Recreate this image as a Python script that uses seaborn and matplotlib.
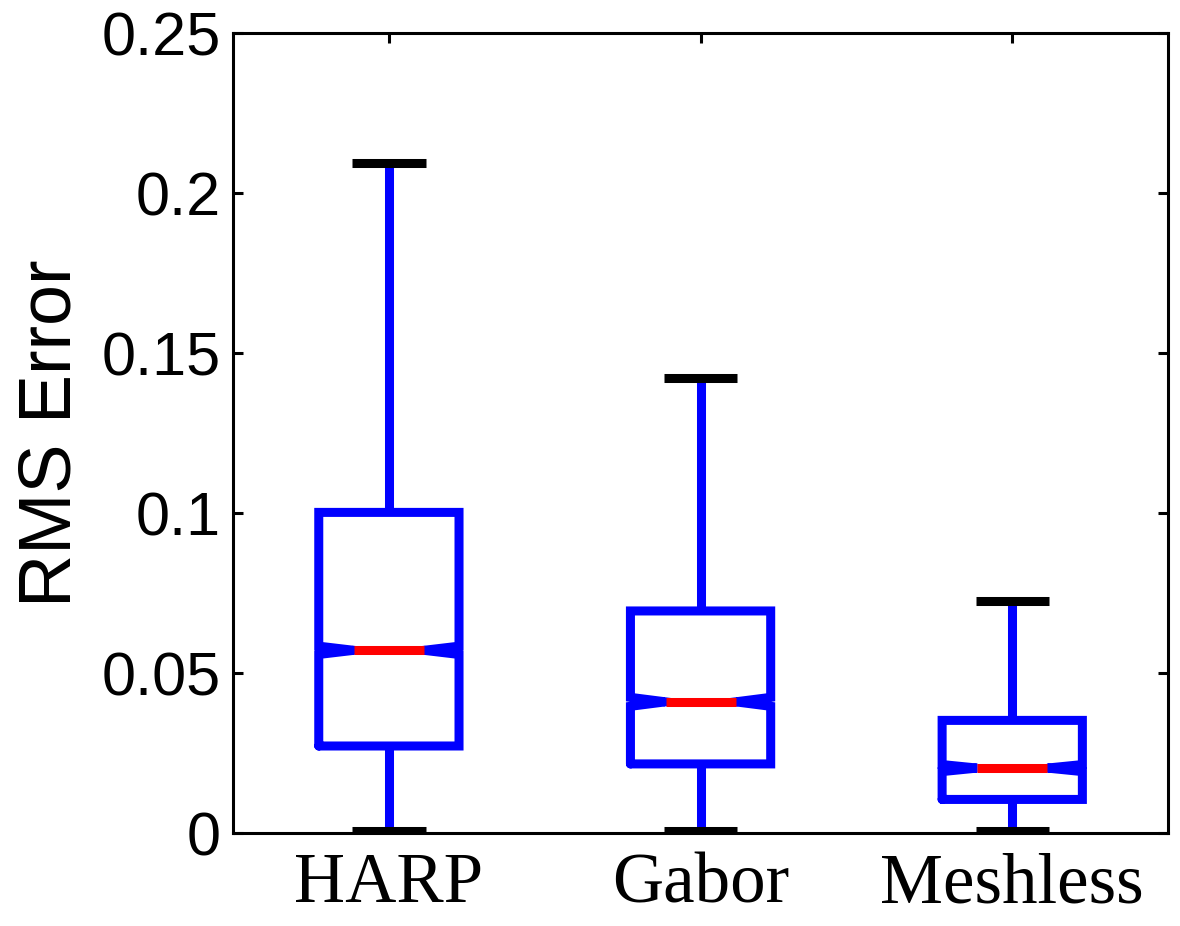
import numpy as np
import pandas as pd
import matplotlib.pyplot as plt
import seaborn as sns

# -----------------------------
# Data
# -----------------------------
methods = ["HARP", "Gabor", "Meshless"]
whisker_low = [0.0005, 0.0005, 0.0005]
q1 = [0.0272, 0.0216, 0.0105]
median = [0.0571, 0.0410, 0.0203]
q3 = [0.1002, 0.0694, 0.0352]
whisker_high = [0.2095, 0.1422, 0.0725]
notch_half = [0.0013, 0.0014, 0.0011]  # half width of the median notch

y_ticks = [0, 0.05, 0.1, 0.15, 0.2, 0.25]
y_tick_labels = ["0", "0.05", "0.1", "0.15", "0.2", "0.25"]

# long-form table: the five summary values of each method
df = pd.DataFrame({
    "method": np.repeat(methods, 5),
    "rms": np.column_stack([whisker_low, q1, median, q3, whisker_high]).ravel(),
})

# same stats as seaborn would compute, plus the real notch interval
box_stats = [
    dict(med=m, q1=a, q3=b, whislo=lo, whishi=hi, cilo=m - n, cihi=m + n, fliers=[])
    for lo, a, m, b, hi, n in zip(whisker_low, q1, median, q3, whisker_high, notch_half)
]

# -----------------------------
# Plot
# -----------------------------
sns.set_style("ticks")
plt.rcParams.update({
    "text.color": "black",
    "axes.labelcolor": "black",
    "xtick.color": "black",
    "ytick.color": "black",
})

fig = plt.figure(figsize=(11.8, 9.26), dpi=100)
ax = fig.add_axes([0.1975, 0.1004, 0.7924, 0.8639])

sns.boxplot(
    data=df, x="method", y="rms", order=methods, ax=ax,
    width=0.45, whis=(0, 100), fill=False, color="blue", linewidth=6.5,
    notch=True, bxpstats=box_stats, capwidths=0.235,
    boxprops=dict(color="blue", solid_joinstyle="miter"),
    whiskerprops=dict(color="blue"),
    medianprops=dict(color="red"),
    capprops=dict(color="black", solid_capstyle="butt"),
)

ax.set_xlim(-0.5, 2.5)
ax.set_ylim(0, 0.25)
ax.set_yticks(y_ticks)
ax.set_yticklabels(y_tick_labels, fontsize=44, family="Liberation Sans")
ax.set_xticks(range(len(methods)))
ax.set_xticklabels(methods, fontsize=51, family="Liberation Serif")
ax.set_xlabel("")
ax.set_ylabel("RMS Error", fontsize=53, family="Liberation Sans")
ax.yaxis.set_label_coords(-0.158, 0.5)

ax.tick_params(direction="in", length=7, width=2.2, color="black",
               labelcolor="black", top=True, right=True)
ax.tick_params(axis="y", pad=9)
ax.tick_params(axis="x", pad=14)
for s in ax.spines.values():
    s.set_linewidth(2.2)
    s.set_color("black")

fig.savefig("out.png", dpi=100)
